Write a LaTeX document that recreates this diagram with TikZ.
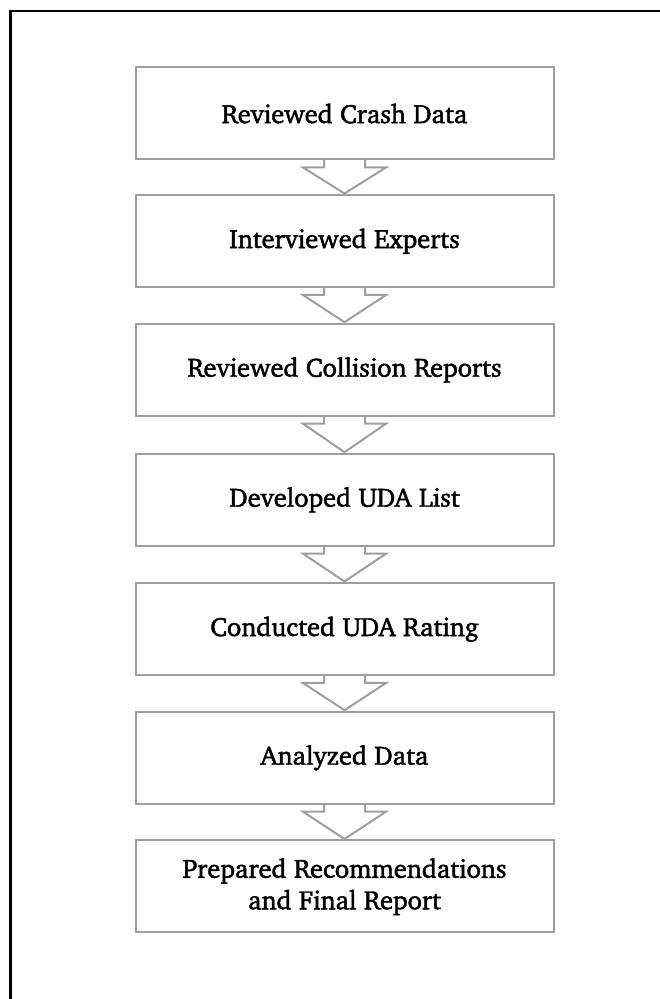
\documentclass[tikz,border=0pt]{standalone}
\usepackage[T1]{fontenc}
\usepackage{charter}
\usetikzlibrary{calc}
\definecolor{boxgray}{RGB}{158,158,158}
% slightly heavier text: fill and stroke the glyphs
\newcommand\heavytext{\special{pdf:literal direct 2 Tr 0.45 w 0 G}}
\tikzset{
  stepbox/.style={draw=boxgray, line width=2pt, fill=white, minimum width=418pt,
    minimum height=92pt, align=center, inner sep=0pt, outer sep=0pt,
    font=\fontsize{26.5}{31.5}\selectfont\heavytext, text=black},
  arrowline/.style={draw=boxgray, line width=2pt, line join=miter},
  frameline/.style={draw=black, line width=2.6pt}
}
% hollow block arrow from the bottom of one box to the top of the next
\newcommand\flowarrow[2]{%
  \draw[arrowline] ($(#1.south)+(-20.5,0)$) -- ++(0,-8) -- ++(-21,0)
    -- ($(#2.north)+(0,1.5)$) -- ($(#1.south)+(41.5,-8)$) -- ++(-21,0)
    -- ($(#1.south)+(20.5,0)$);}
\begin{document}
\begin{tikzpicture}[x=1pt,y=1pt]
  \useasboundingbox (0,0) rectangle (660,999);
  \clip (0,0) rectangle (660,999);
  % outer frame, running past the right and bottom edges
  \draw[frameline] (10.5,-20) rectangle (700,988);
  \node[stepbox] (s1) at (344.5,999-113.5) {Reviewed Crash Data};
  \node[stepbox] (s2) at (344.5,999-241) {Interviewed Experts};
  \node[stepbox] (s3) at (344.5,999-369.7) {Reviewed Collision Reports};
  \node[stepbox] (s4) at (344.5,999-499.7) {Developed UDA List};
  \node[stepbox] (s5) at (344.5,999-629) {Conducted UDA Rating};
  \node[stepbox] (s6) at (344.5,999-757.7) {Analyzed Data};
  \node[stepbox] (s7) at (344.5,999-886.5) {Prepared Recommendations\\and Final Report};
  \flowarrow{s1}{s2}
  \flowarrow{s2}{s3}
  \flowarrow{s3}{s4}
  \flowarrow{s4}{s5}
  \flowarrow{s5}{s6}
  \flowarrow{s6}{s7}
\end{tikzpicture}
\end{document}
